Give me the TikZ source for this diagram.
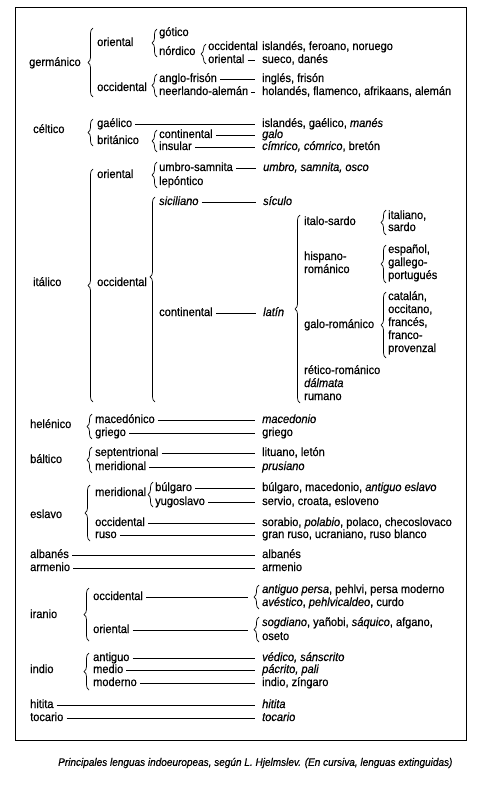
\documentclass[tikz,border=0pt]{standalone}
\usepackage{fontspec}
\setmainfont{Liberation Sans}[FakeStretch=0.92,FakeBold=0.6]
\usetikzlibrary{decorations.pathreplacing}

\begin{document}
\begin{tikzpicture}[x=1pt,y=-1pt,
  lab/.style={anchor=west,inner sep=0pt,text height=8.5pt,text depth=2.5pt,
              font=\fontsize{12pt}{13pt}\selectfont},
  ln/.style={line width=0.75pt,shorten <=3pt,shorten >=7pt},
  brc/.style={line width=0.7pt,decorate,decoration={brace,amplitude=5pt,aspect=#1}},
  brc/.default=0.5]
\useasboundingbox (0,0) rectangle (480,805);
\draw[line width=1pt] (15,8) rectangle (466,740);
% germanico
\node[lab] (germ) at (29,63) {germánico};
\node[lab] (germOr) at (97,43) {oriental};
\node[lab] (germOc) at (97,88) {occidental};
\node[lab] (gotico) at (159,33) {gótico};
\node[lab] (nordico) at (159,52) {nórdico};
\node[lab] (nordOc) at (208,47) {occidental};
\node[lab] (nordOr) at (208,60) {oriental};
\node[lab] (islFer) at (262,47) {islandés, feroano, noruego};
\node[lab] (suecDan) at (262,60) {sueco, danés};
\node[lab] (anglo) at (159,79) {anglo-frisón};
\node[lab] (neerl) at (159,92) {neerlando-alemán};
\node[lab] (inglFr) at (262,79) {inglés, frisón};
\node[lab] (holand) at (262,92) {holandés, flamenco, afrikaans, alemán};
\draw[brc] (93,97) -- (93,28);
\draw[brc] (157,57) -- (157,29);
\draw[brc] (206,64) -- (206,44);
\draw[brc] (157,97) -- (157,74);
\draw[ln] (nordOr.east) -- (nordOr.east -| suecDan.west);
\draw[ln] (anglo.east) -- (anglo.east -| inglFr.west);
\draw[ln] (neerl.east) -- (neerl.east -| holand.west);
% celtico
\node[lab] (celt) at (33,130) {céltico};
\node[lab] (gael) at (97,124) {gaélico};
\node[lab] (brit) at (97,141) {británico};
\node[lab] (contC) at (159,135) {continental};
\node[lab] (insul) at (159,147) {insular};
\node[lab] (islGa) at (262,124) {islandés, gaélico, \textit{manés}};
\node[lab] (galo) at (262,135) {\textit{galo}};
\node[lab] (cimr) at (262,147) {\textit{címrico, cómrico}, bretón};
\draw[brc] (93,146) -- (93,119);
\draw[brc] (157,152) -- (157,130);
\draw[ln] (gael.east) -- (gael.east -| islGa.west);
\draw[ln] (contC.east) -- (contC.east -| galo.west);
\draw[ln] (insul.east) -- (insul.east -| cimr.west);
% italico
\node[lab] (ital) at (33,283) {itálico};
\node[lab] (italOr) at (97,175) {oriental};
\node[lab] (italOc) at (97,283) {occidental};
\node[lab] (umbro) at (159,168) {umbro-samnita};
\node[lab] (lepon) at (159,182) {lepóntico};
\node[lab] (umbroL) at (263,168) {\textit{umbro, samnita, osco}};
\node[lab] (sicil) at (159,202) {\textit{siciliano}};
\node[lab] (sicul) at (263,202) {\textit{sículo}};
\node[lab] (contI) at (159,313) {continental};
\node[lab] (latin) at (263,313) {\textit{latín}};
\draw[brc] (93,402) -- (93,169);
\draw[brc] (157,188) -- (157,162);
\draw[brc=0.61] (155,402) -- (155,197);
\draw[ln] (umbro.east) -- (umbro.east -| umbroL.west);
\draw[ln] (sicil.east) -- (sicil.east -| sicul.west);
\draw[ln] (contI.east) -- (contI.east -| latin.west);
% latin
\node[lab] (italSa) at (304,222) {italo-sardo};
\node[lab] (hispA) at (304,257) {hispano-};
\node[lab] (hispB) at (304,270) {románico};
\node[lab] (galoR) at (304,325) {galo-románico};
\node[lab] (retico) at (304,371) {rético-románico};
\node[lab] (dalm) at (304,384) {\textit{dálmata}};
\node[lab] (rumano) at (304,397) {rumano};
\draw[brc] (300,403) -- (300,215);
\node[lab] (italiano) at (388,216) {italiano,};
\node[lab] (sardo) at (388,228) {sardo};
\draw[brc] (386,235) -- (386,210);
\node[lab] (espan) at (388,250) {español,};
\node[lab] (galleg) at (388,263) {gallego-};
\node[lab] (portug) at (388,276) {portugués};
\draw[brc] (386,283) -- (386,245);
\node[lab] (catal) at (388,297) {catalán,};
\node[lab] (occit) at (388,310) {occitano,};
\node[lab] (franc) at (388,323) {francés,};
\node[lab] (francoA) at (388,336) {franco-};
\node[lab] (proven) at (388,349) {provenzal};
\draw[brc] (386,358) -- (386,292);
% helenico
\node[lab] (helen) at (30,425) {helénico};
\node[lab] (maced) at (95,420) {macedónico};
\node[lab] (griego) at (95,433) {griego};
\node[lab] (macedL) at (262,420) {\textit{macedonio}};
\node[lab] (griegoL) at (262,433) {griego};
\draw[brc] (92,439) -- (92,414);
\draw[ln] (maced.east) -- (maced.east -| macedL.west);
\draw[ln] (griego.east) -- (griego.east -| griegoL.west);
% baltico
\node[lab] (balt) at (30,460) {báltico};
\node[lab] (septen) at (95,453) {septentrional};
\node[lab] (merid) at (95,467) {meridional};
\node[lab] (lituan) at (262,453) {lituano, letón};
\node[lab] (prus) at (262,467) {\textit{prusiano}};
\draw[brc] (92,473) -- (92,447);
\draw[ln] (septen.east) -- (septen.east -| lituan.west);
\draw[ln] (merid.east) -- (merid.east -| prus.west);
% eslavo
\node[lab] (eslav) at (30,515) {eslavo};
\node[lab] (meridE) at (95,493) {meridional};
\node[lab] (bulg) at (155,488) {búlgaro};
\node[lab] (yugos) at (155,502) {yugoslavo};
\node[lab] (bulgL) at (262,488) {búlgaro, macedonio, \textit{antiguo eslavo}};
\node[lab] (servio) at (262,502) {servio, croata, esloveno};
\node[lab] (occE) at (95,523) {occidental};
\node[lab] (sorab) at (262,523) {sorabio, \textit{polabio}, polaco, checoslovaco};
\node[lab] (ruso) at (95,535) {ruso};
\node[lab] (granR) at (262,535) {gran ruso, ucraniano, ruso blanco};
\draw[brc] (90,541) -- (90,485);
\draw[brc] (153,507) -- (153,482);
\draw[ln] (bulg.east) -- (bulg.east -| bulgL.west);
\draw[ln] (yugos.east) -- (yugos.east -| servio.west);
\draw[ln] (occE.east) -- (occE.east -| sorab.west);
\draw[ln] (ruso.east) -- (ruso.east -| granR.west);
% albanes, armenio
\node[lab] (alban) at (30,555) {albanés};
\node[lab] (albanL) at (262,555) {albanés};
\node[lab] (armen) at (30,568) {armenio};
\node[lab] (armenL) at (262,568) {armenio};
\draw[ln] (alban.east) -- (alban.east -| albanL.west);
\draw[ln] (armen.east) -- (armen.east -| armenL.west);
% iranio
\node[lab] (iran) at (30,615) {iranio};
\node[lab] (iranOc) at (93,597) {occidental};
\node[lab] (iranOr) at (93,630) {oriental};
\node[lab] (persa) at (262,590) {\textit{antiguo persa}, pehlvi, persa moderno};
\node[lab] (avest) at (262,603) {\textit{avéstico}, \textit{pehlvicaldeo}, curdo};
\node[lab] (sogd) at (262,623) {\textit{sogdiano}, yañobi, \textit{sáquico}, afgano,};
\node[lab] (oseto) at (262,637) {oseto};
\draw[brc] (89,641) -- (89,588);
\draw[brc] (259,609) -- (259,585);
\draw[brc] (259,642) -- (259,617);
\draw[ln,shorten >=14pt] (iranOc.east) -- (iranOc.east -| persa.west);
\draw[ln,shorten >=14pt] (iranOr.east) -- (iranOr.east -| sogd.west);
% indio
\node[lab] (indio) at (30,670) {indio};
\node[lab] (antig) at (93,658) {antiguo};
\node[lab] (medio) at (93,670) {medio};
\node[lab] (moder) at (93,683) {moderno};
\node[lab] (vedic) at (262,658) {\textit{védico, sánscrito}};
\node[lab] (pacr) at (262,670) {\textit{pácrito, pali}};
\node[lab] (indioL) at (262,683) {indio, zíngaro};
\draw[brc] (89,690) -- (89,653);
\draw[ln] (antig.east) -- (antig.east -| vedic.west);
\draw[ln] (medio.east) -- (medio.east -| pacr.west);
\draw[ln] (moder.east) -- (moder.east -| indioL.west);
% hitita, tocario
\node[lab] (hitita) at (30,705) {hitita};
\node[lab] (hititaL) at (262,705) {\textit{hitita}};
\node[lab] (tocar) at (30,718) {tocario};
\node[lab] (tocarL) at (262,718) {\textit{tocario}};
\draw[ln] (hitita.east) -- (hitita.east -| hititaL.west);
\draw[ln] (tocar.east) -- (tocar.east -| tocarL.west);
% caption
\node[anchor=west,inner sep=0pt,font=\fontsize{10.9pt}{12pt}\selectfont\itshape] (capt) at (58,763)
  {Principales lenguas indoeuropeas, según L. Hjelmslev. (En cursiva, lenguas extinguidas)};
\end{tikzpicture}
\end{document}
